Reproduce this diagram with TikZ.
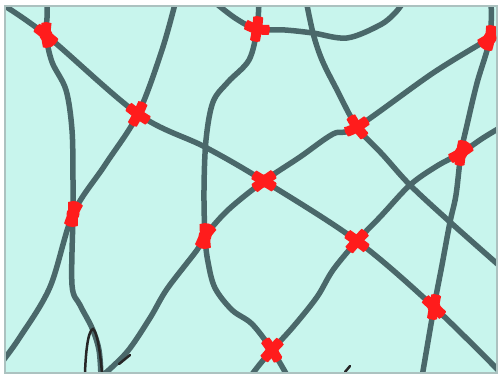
\documentclass[tikz,border=0pt]{standalone}
\pgfdeclarelayer{bg}
\pgfsetlayers{bg,main}
\definecolor{paper}{RGB}{200,245,237}
\definecolor{wirec}{RGB}{74,104,106}
\definecolor{jointc}{RGB}{255,28,28}
\definecolor{framec}{RGB}{172,194,192}
\tikzset{
  wire/.style={draw=wirec, line width=5.5pt, line cap=round, line join=round},
  redwire/.style={draw=jointc, line width=10pt, line cap=round, line join=round},
  joint/.style={circle, fill=jointc, inner sep=0pt, minimum size=13pt},
  ink/.style={draw=black!85, line width=2.5pt, line cap=round}
}
\newcommand\wA{plot[smooth,tension=0.55] coordinates {(0,3) (n1.center) (n2.center) (205,147) (n6.center) (n10.center) (n11.center) (502,374)}}
\newcommand\wB{plot[smooth,tension=0.55] coordinates {(47,0) (47,18) (n1.center) (52,62) (66,90) (72,130) (73,180) (n8.center) (72,285) (80,305) (92,328) (99,350) (101,377)}}
\newcommand\wC{plot[smooth,tension=0.55] coordinates {(176,0) (162,50) (n2.center) (105,165) (n8.center) (50,287) (20,337) (2,362)}}
\newcommand\wD{plot[smooth,tension=0.55] coordinates {(259,0) (n3.center) (249,60) (228,82) (213,102) (206,140) (204,190) (n9.center) (208,262) (215,288) (232,310) (252,324) (n12.center) (288,377)}}
\newcommand\wE{plot[smooth,tension=0.55] coordinates {(212,0) (235,18) (n3.center) (285,30) (313,33) (347,38) (380,25) (395,13) (405,0)}}
\newcommand\wF{plot[smooth,tension=0.55] coordinates {(101,377) (127,352) (150,318) (167,289) (197,250) (n9.center) (228,210) (n6.center) (300,157) (333,134) (n5.center) (433,73) (n4.center) (502,30)}}
\newcommand\wG{plot[smooth,tension=0.55] coordinates {(306,0) (313,33) (322,60) (337,90) (n5.center) (383,155) (410,185) (450,222) (502,268)}}
\newcommand\wH{plot[smooth,tension=0.55] coordinates {(491,0) (n4.center) (477,83) (467,125) (n7.center) (456,195) (450,222) (442,265) (n11.center) (422,377)}}
\newcommand\wI{plot[smooth,tension=0.55] coordinates {(503,126) (483,138) (n7.center) (437,166) (410,185) (381,216) (n10.center) (333,270) (317,297) (293,327) (n12.center) (260,364) (250,377)}}
\begin{document}
\begin{tikzpicture}[x=1pt,y=-1pt]
\useasboundingbox (0,0) rectangle (501,377);
% joints
\node[joint] (n1)  at (46,35)   {};
\node[joint] (n2)  at (138,114) {};
\node[joint] (n3)  at (257,29)  {};
\node[joint] (n4)  at (490,38)  {};
\node[joint] (n5)  at (357,127) {};
\node[joint] (n6)  at (264,181) {};
\node[joint] (n7)  at (461,153) {};
\node[joint] (n8)  at (73,214)  {};
\node[joint] (n9)  at (205,236) {};
\node[joint] (n10) at (357,241) {};
\node[joint] (n11) at (434,307) {};
\node[joint] (n12) at (272,350) {};
\begin{pgfonlayer}{bg}
  \fill[white] (0,0) rectangle (501,377);
  \fill[paper] (5,6) rectangle (497,373);
  \begin{scope}
    \clip (5,6) rectangle (497,373);
    \draw[wire] \wA;
    \draw[wire] \wB;
    \draw[wire] \wC;
    \draw[wire] \wD;
    \draw[wire] \wE;
    \draw[wire] \wF;
    \draw[wire] \wG;
    \draw[wire] \wH;
    \draw[wire] \wI;
    \draw[ink] (85,373) .. controls (86,345) and (89,330) .. (93,329) .. controls (97,332) and (100,350) .. (102,373);
    \draw[ink] (119,364) -- (130,355);
    \draw[ink] (345,372) -- (350,366);
    \clip (n1.center) circle[radius=13pt] (n2.center) circle[radius=13pt]
          (n3.center) circle[radius=13pt] (n4.center) circle[radius=13pt]
          (n5.center) circle[radius=13pt] (n6.center) circle[radius=13pt]
          (n7.center) circle[radius=13pt] (n8.center) circle[radius=13pt]
          (n9.center) circle[radius=13pt] (n10.center) circle[radius=13pt]
          (n11.center) circle[radius=13pt] (n12.center) circle[radius=13pt];
    \draw[redwire] \wA;
    \draw[redwire] \wB;
    \draw[redwire] \wC;
    \draw[redwire] \wD;
    \draw[redwire] \wE;
    \draw[redwire] \wF;
    \draw[redwire] \wG;
    \draw[redwire] \wH;
    \draw[redwire] \wI;
  \end{scope}
  \draw[framec, line width=1.5pt] (5,6) rectangle (497,373);
\end{pgfonlayer}
\end{tikzpicture}
\end{document}
